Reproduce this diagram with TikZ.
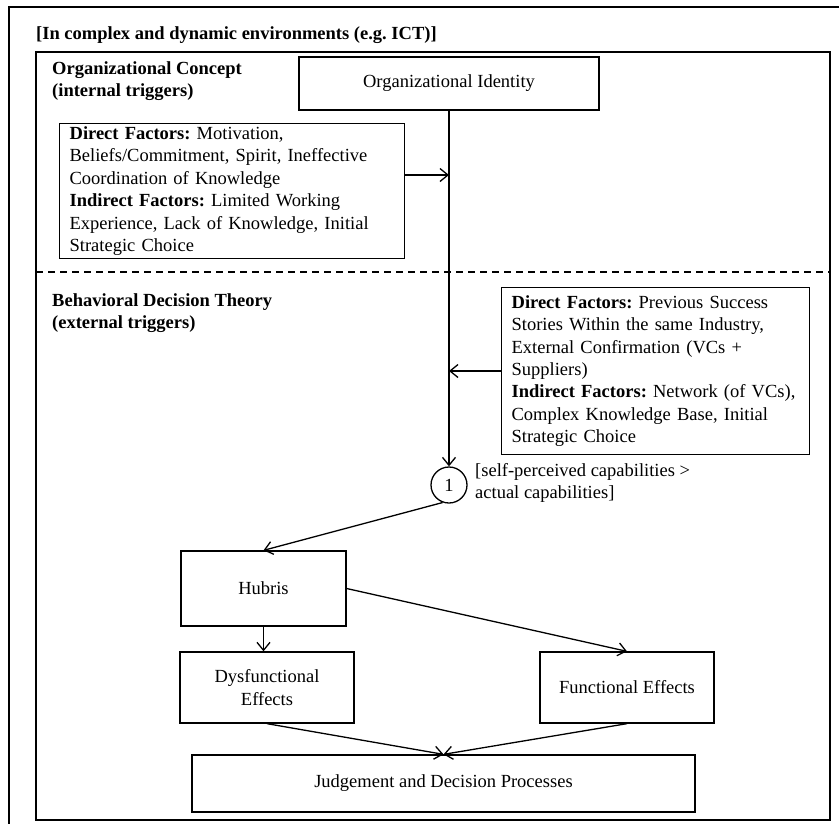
\documentclass[tikz,border=0pt]{standalone}
\usepackage{fontspec}
\setmainfont{Liberation Serif}
\usetikzlibrary{arrows.meta,calc}
\newcommand\myfs{\fontsize{18.5}{22.4}\selectfont\frenchspacing}
\begin{document}
\begin{tikzpicture}[x=1pt,y=-1pt,
  frame/.style={draw, line width=1.6pt},
  box/.style={draw, line width=1.3pt, font=\myfs, inner sep=0pt, align=center},
  factbox/.style={draw, line width=1.3pt, font=\myfs, inner xsep=10pt, inner ysep=0pt, align=left, anchor=north west},
  arr/.style={line width=1.3pt, -{Straight Barb[length=8pt,width=13pt]}},
  lbl/.style={font=\myfs, inner sep=0pt, anchor=base west},
  sep/.style={line width=1.3pt, dash pattern=on 7pt off 5pt}]
\useasboundingbox (0,0) rectangle (839,823);
% frames
\draw[frame] (9,7) rectangle (846,830);
\draw[frame] (36,52) rectangle (830,820);
\node[lbl] (title) at (36,39) {\textbf{[In complex and dynamic environments (e.g. ICT)]}};
\node[lbl] (oc1) at (52,74) {\textbf{Organizational Concept}};
\node[lbl] (oc2) at (52,96) {\textbf{(internal triggers)}};
\node[lbl] (bd1) at (52,306) {\textbf{Behavioral Decision Theory}};
\node[lbl] (bd2) at (52,328) {\textbf{(external triggers)}};
\draw[sep] (36,272) -- (830,272);
% nodes
\node[box, minimum width=300pt, minimum height=53pt] (oi) at (449,83.5) {Organizational Identity};
\node[factbox, text width=325pt, minimum height=135pt] (lbox) at (59,123) {\textbf{Direct Factors:} Motivation,\\ Beliefs/Commitment, Spirit, Ineffective\\ Coordination of Knowledge\\ \textbf{Indirect Factors:} Limited Working\\ Experience, Lack of Knowledge, Initial\\ Strategic Choice};
\node[factbox, text width=288pt, minimum height=167pt] (rbox) at (501,287) {\textbf{Direct Factors:} Previous Success\\ Stories Within the same Industry,\\ External Confirmation (VCs +\\ Suppliers)\\ \mbox{\textbf{Indirect Factors:} Network (of VCs),}\\ Complex Knowledge Base, Initial\\ Strategic Choice};
\node[box, circle, minimum size=36pt] (c1) at (449,485) {1};
\node[font=\myfs, inner sep=0pt, align=left, anchor=west] (cap) at (475,483) {[self-perceived capabilities >\\ actual capabilities]};
\node[box, minimum width=165pt, minimum height=75pt] (hub) at (263.5,588.5) {Hubris};
\node[box, minimum width=174pt, minimum height=71pt] (dys) at (267,687.5) {Dysfunctional\\ Effects};
\node[box, minimum width=174pt, minimum height=71pt] (fun) at (627,687.5) {Functional Effects};
\node[box, minimum width=503pt, minimum height=57pt] (jdp) at (443.5,783.5) {Judgement and Decision Processes};
% connectors
\coordinate (m1) at (449,175);
\coordinate (m2) at (449,371);
\draw[arr] (oi.south) -- (c1.north);
\draw[arr] (lbox.east |- m1) -- (m1);
\draw[arr] (rbox.west |- m2) -- (m2);
\draw[arr] (c1.250) -- (hub.north);
\draw[arr] (hub.south) -- (hub.south |- dys.north);
\draw[arr] (hub.east) -- (fun.north);
\draw[arr] (dys.south) -- (jdp.north);
\draw[arr] (fun.south) -- (jdp.north);
\end{tikzpicture}
\end{document}
